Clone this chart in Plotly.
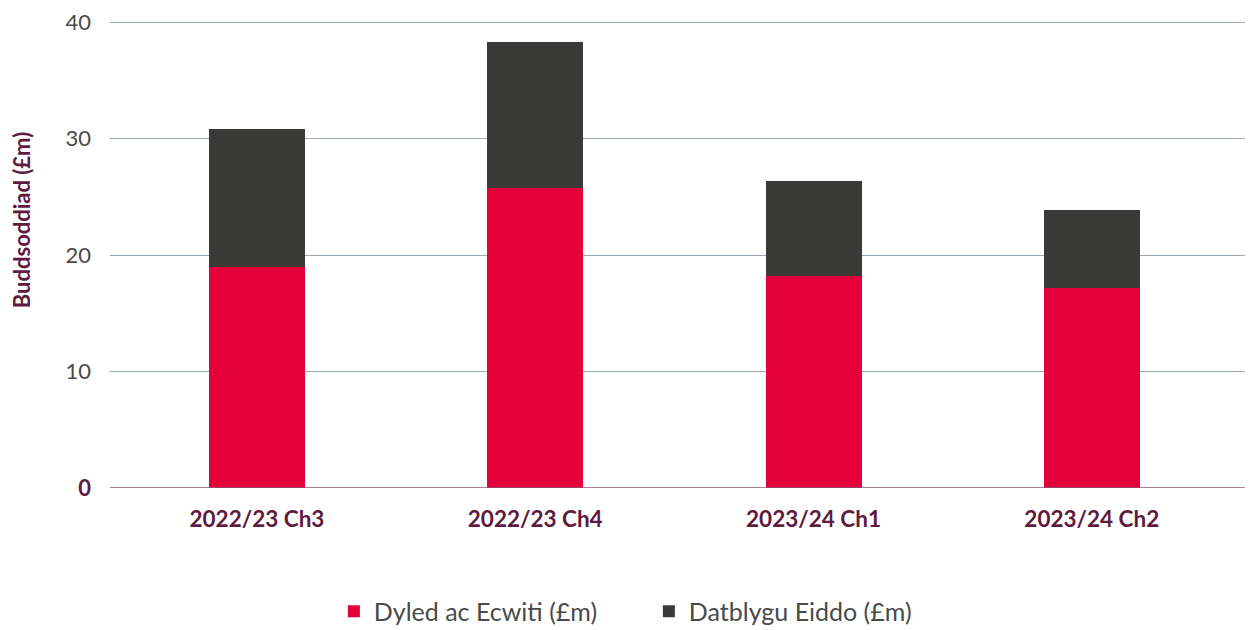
import plotly.graph_objects as go

categories = ["2022/23 Ch3", "2022/23 Ch4", "2023/24 Ch1", "2023/24 Ch2"]
debt_equity = [19.0, 25.8, 18.2, 17.2]
property_dev = [11.8, 12.5, 8.2, 6.7]
series_names = ["Dyled ac Ecwiti (£m)", "Datblygu Eiddo (£m)"]
y_ticks = [0, 10, 20, 30, 40]

RED = "#e4003b"
DARK = "#3a3a38"
PURPLE = "#5e1a3f"
GREY = "#4a4a4a"
FONT = "Lato, 'Open Sans', sans-serif"

fig = go.Figure()
fig.add_trace(go.Bar(x=list(range(len(categories))), y=debt_equity, name=series_names[0],
                     marker=dict(color=RED, line=dict(width=0))))
fig.add_trace(go.Bar(x=list(range(len(categories))), y=property_dev, name=series_names[1],
                     marker=dict(color=DARK, line=dict(width=0))))

ticktext = []
for v in y_ticks:
    if v == 0:
        ticktext.append(f"<b><span style='color:{PURPLE}'>{v}</span></b>")
    else:
        ticktext.append(str(v))

fig.update_layout(
    barmode="stack",
    bargap=0.655,
    width=1253, height=630,
    margin=dict(l=102, r=0, t=9, b=150),
    paper_bgcolor="white", plot_bgcolor="white",
    font=dict(family=FONT, size=20, color=GREY),
    showlegend=True,
    legend=dict(orientation="h", x=0.1945, xanchor="left", y=-0.264, yanchor="middle",
                font=dict(family=FONT, size=25, color=GREY), itemwidth=30,
                traceorder="normal", entrywidthmode="pixels", entrywidth=270),
    xaxis=dict(
        range=[-0.528, 3.608],
        tickvals=list(range(len(categories))),
        ticktext=[f"<b>{c}</b>" for c in categories],
        tickfont=dict(family=FONT, size=22.5, color=PURPLE),
        showgrid=False, zeroline=False, showline=False,
        ticks="", ticklabelstandoff=15,
    ),
    yaxis=dict(
        range=[0, 40.2],
        tickvals=y_ticks, ticktext=ticktext,
        tickfont=dict(family=FONT, size=22, color=GREY),
        showgrid=True, gridcolor="#9aa7b0", gridwidth=1,
        zeroline=False, showline=False, ticks="", ticklabelstandoff=18,
        ticklabeloverflow="allow",
    ),
    shapes=[dict(type="line", xref="paper", yref="y", x0=0, x1=1, y0=0, y1=0,
                 line=dict(color="#8a5574", width=1.5), layer="above")],
    annotations=[dict(text="<b>Buddsoddiad (£m)</b>", textangle=-90, xref="paper", yref="paper",
                      x=-0.077, y=0.573, xanchor="center", yanchor="middle", showarrow=False,
                      font=dict(family=FONT, size=22, color=PURPLE))],
)

fig.write_html("out.html")
